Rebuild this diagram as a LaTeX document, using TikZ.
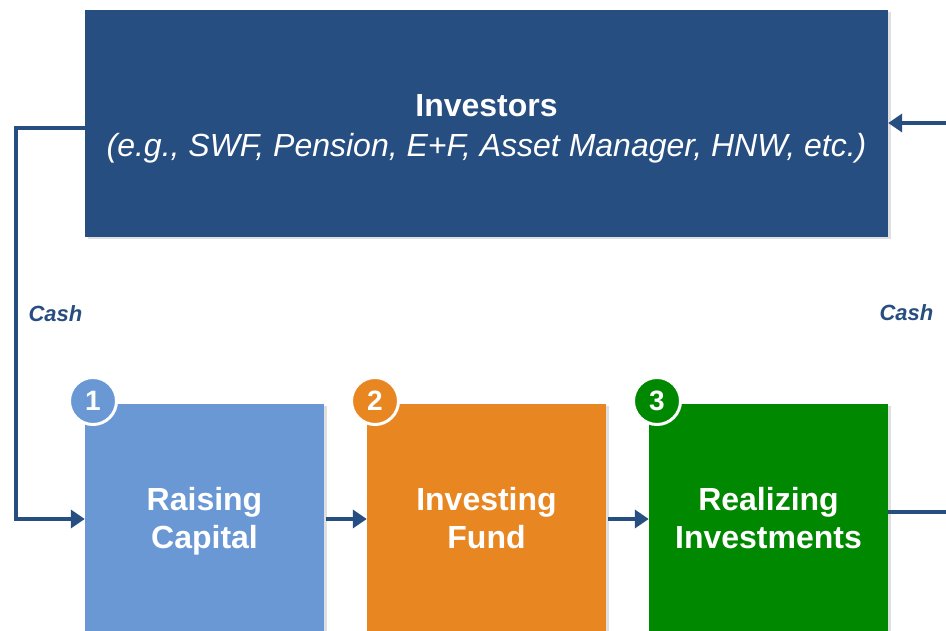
\documentclass[tikz,border=0pt]{standalone}
\usepackage{fontspec}
\setmainfont{Liberation Sans}
\usetikzlibrary{arrows.meta,shadows}
\definecolor{navy}{RGB}{38,78,128}
\definecolor{skyblue}{RGB}{106,152,212}
\definecolor{fundorange}{RGB}{232,134,34}
\definecolor{exitgreen}{RGB}{0,136,0}
\begin{document}
\begin{tikzpicture}[
    x=1pt, y=-1pt,
    stage/.style={rectangle, minimum width=239pt, minimum height=230pt, inner sep=0pt,
        drop shadow={shadow xshift=3pt, shadow yshift=-2pt, opacity=0.25}},
    stagetext/.style={text=white, align=center, inner sep=0pt,
        font=\bfseries\fontsize{32}{38}\selectfont},
    badge/.style={circle, draw=white, line width=3pt, minimum size=47pt, inner sep=0pt,
        text=white, font=\bfseries\fontsize{28}{28}\selectfont},
    flow/.style={draw=navy, line width=4pt, -{Triangle[length=14pt,width=18pt]}},
    loop/.style={draw=navy, line width=3.5pt},
    cash/.style={text=navy, font=\bfseries\itshape\fontsize{22}{22}\selectfont}
]
\useasboundingbox (0,0) rectangle (946,631);
\clip (0,0) rectangle (946,631);
% investors
\node [rectangle, fill=navy, minimum width=803pt, minimum height=227pt, inner sep=0pt,
    drop shadow={shadow xshift=3pt, shadow yshift=-2pt, opacity=0.25}]
    (inv) at (486.5,123.5) {};
\node [text=white, align=center, inner sep=0pt, font=\fontsize{32}{40}\selectfont]
    (invtext) at (486.5,131.5) {\textbf{Investors}\\\textit{(e.g., SWF, Pension, E+F, Asset Manager, HNW, etc.)}\strut};
% stages
\node [stage, fill=skyblue] (raise) at (204.5,519) {};
\node [stage, fill=fundorange] (invest) at (486.5,519) {};
\node [stage, fill=exitgreen] (realize) at (768.5,519) {};
\node [stagetext] (raisetext) at (204.5,524) {Raising\\Capital\strut};
\node [stagetext] (investtext) at (486.5,524) {Investing\\Fund\strut};
\node [stagetext] (realizetext) at (768.5,524) {Realizing\\Investments\strut};
\node [badge, fill=skyblue] (n1) at (93,401) {1};
\node [badge, fill=fundorange] (n2) at (375,401) {2};
\node [badge, fill=exitgreen] (n3) at (657,401) {3};
% arrows between stages
\draw [flow] ([xshift=2pt]raise.east) -- (invest.west);
\draw [flow] ([xshift=2pt]invest.east) -- (realize.west);
% cash loops
\draw [loop, -{Triangle[length=14pt,width=18pt]}] ([yshift=-4.5pt]inv.west) -- ++(-69,0) |- (raise.west);
\coordinate (retin) at (946,123);
\coordinate (retout) at (946,512);
\draw [loop, -{Triangle[length=14pt,width=18pt]}] (retin) -- (inv.east |- retin);
\draw [loop] (realize.east |- retout) -- (retout);
\node [cash] (cashL) at (55.5,314) {Cash};
\node [cash] (cashR) at (906.5,313) {Cash};
\end{tikzpicture}
\end{document}
